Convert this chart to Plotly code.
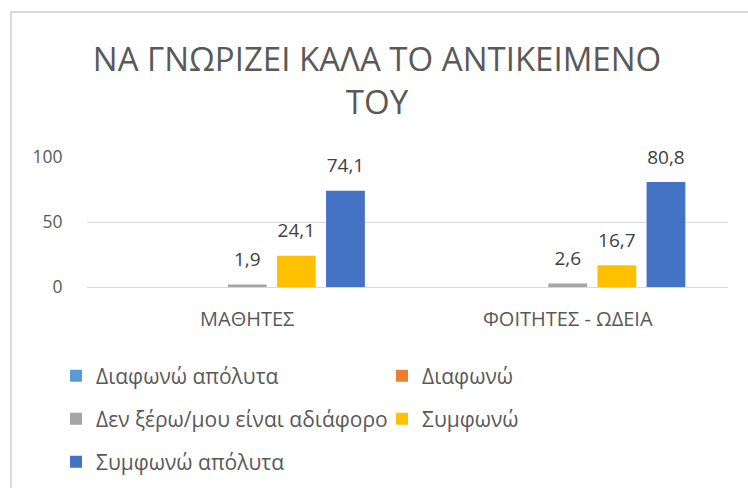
import plotly.graph_objects as go

categories = ["ΜΑΘΗΤΕΣ", "ΦΟΙΤΗΤΕΣ - ΩΔΕΙΑ"]
series_names = ["Διαφωνώ απόλυτα", "Διαφωνώ", "Δεν ξέρω/μου είναι αδιάφορο", "Συμφωνώ", "Συμφωνώ απόλυτα"]
diafono_apolyta = [None, None]
diafono = [None, None]
den_xero = [1.9, 2.6]
symfono = [24.1, 16.7]
symfono_apolyta = [74.1, 80.8]
colors = ["#5B9BD5", "#ED7D31", "#A5A5A5", "#FFC000", "#4472C4"]
legend_ids = ["legend", "legend", "legend2", "legend2", "legend3"]
y_ticks = [0, 50, 100]

W, H = 748, 488
L, R, T, B = 87, 20, 157, 201
pw, ph = W - L - R, H - T - B

def px(x):
    return (x - L) / pw

def py(y):
    return (H - B - y) / ph

font = "Open Sans, sans-serif"
all_values = [diafono_apolyta, diafono, den_xero, symfono, symfono_apolyta]

fig = go.Figure()
for name, vals, col, lg in zip(series_names, all_values, colors, legend_ids):
    fig.add_trace(go.Bar(
        x=categories, y=vals, name=name, marker_color=col,
        marker_line_width=0, legend=lg, offsetgroup=name,
    ))
# data labels, placed with the bars' own group offsets
for name, vals in zip(series_names, all_values):
    fig.add_trace(go.Scatter(
        x=categories, y=vals, mode="markers+text", offsetgroup=name,
        marker=dict(size=20, opacity=0), showlegend=False, hoverinfo="skip",
        texttemplate="%{y:.1f}", textposition="top center", cliponaxis=False,
        textfont=dict(size=19, color="#404040", family=font),
    ))

leg_common = dict(orientation="h", xref="paper", yref="paper", xanchor="left", yanchor="middle",
                  font=dict(size=21, color="#595959", family=font), entrywidth=281,
                  bgcolor="rgba(0,0,0,0)", itemwidth=30)

fig.update_layout(
    width=W, height=H,
    margin=dict(l=L, r=R, t=T, b=B, autoexpand=False),
    paper_bgcolor="white", plot_bgcolor="white",
    separators=",.",
    barmode="group", bargap=0.234, bargroupgap=0.21,
    scattermode="group", scattergap=0.234,
    title=dict(text="ΝΑ ΓΝΩΡΙΖΕΙ ΚΑΛΑ ΤΟ ΑΝΤΙΚΕΙΜΕΝΟ<br>ΤΟΥ", x=px(377), xref="paper", xanchor="center",
               y=1 - 71 / H, yref="container", yanchor="top",
               font=dict(size=33, color="#595959", family="Liberation Sans Narrow, Open Sans, sans-serif")),
    xaxis=dict(showgrid=False, showline=False, ticks="outside", ticklen=14, tickcolor="rgba(0,0,0,0)",
               tickfont=dict(size=20, color="#595959", family=font)),
    yaxis=dict(range=[0, 100], tickvals=y_ticks, showgrid=True, gridcolor="#D9D9D9", gridwidth=1,
               zeroline=True, zerolinecolor="#D9D9D9", zerolinewidth=1, showline=False,
               ticks="outside", ticklen=20, tickcolor="rgba(0,0,0,0)",
               tickfont=dict(size=17.5, color="#595959", family=font)),
    legend=dict(x=px(56), y=py(376), **leg_common),
    legend2=dict(x=px(56), y=py(419), **leg_common),
    legend3=dict(x=px(56), y=py(462), **leg_common),
    showlegend=True,
)

fig.add_shape(type="line", xref="paper", yref="paper", x0=px(11), x1=px(11), y0=py(12), y1=py(H + 5),
              line=dict(color="#D9D9D9", width=2))
fig.add_shape(type="line", xref="paper", yref="paper", x0=px(10), x1=px(W + 5), y0=py(12), y1=py(12),
              line=dict(color="#D9D9D9", width=2))

fig.write_html("out.html", config={"displayModeBar": False},
               post_script="document.body.style.margin='0';")
